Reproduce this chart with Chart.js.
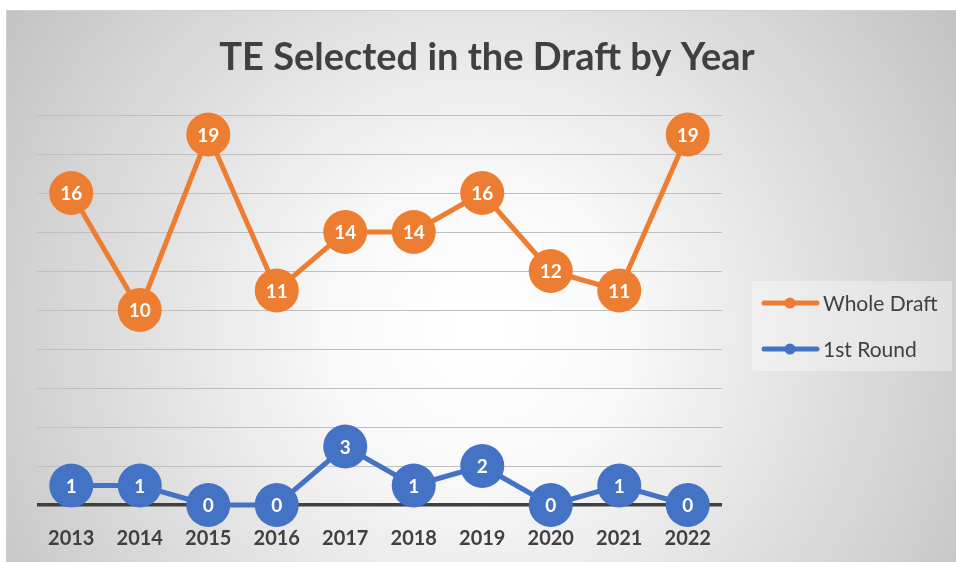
<!DOCTYPE html>
<html>
<head>
<meta charset="utf-8">
<script src="https://cdn.jsdelivr.net/npm/chart.js@4.4.0/dist/chart.umd.min.js"></script>
<style>
  html, body { margin: 0; padding: 0; background: #ffffff; }
  #wrap { width: 956px; height: 562px; position: relative; }
</style>
</head>
<body>
<div id="wrap"><canvas id="draftChart"></canvas></div>
<script>
// Данные графика
const years = ['2013', '2014', '2015', '2016', '2017', '2018', '2019', '2020', '2021', '2022'];
const wholeDraft = [16, 10, 19, 11, 14, 14, 16, 12, 11, 19];
const firstRound = [1, 1, 0, 0, 3, 1, 2, 0, 1, 0];
const seriesNames = ['Whole Draft', '1st Round'];
const seriesColors = ['#ED7D31', '#4472C4'];
const chartTitle = 'TE Selected in the Draft by Year';

const FONT = 'Lato, "Open Sans", sans-serif';

// Фон, заголовок, подписи точек и легенда
const decorPlugin = {
    id: 'decor',
    beforeDraw(chart) {
        const c = chart.ctx;
        c.save();
        c.fillStyle = '#ffffff';
        c.fillRect(0, 0, chart.width, chart.height);
        const g = c.createRadialGradient(480, 330, 20, 480, 330, 560);
        g.addColorStop(0, '#ffffff');
        g.addColorStop(0.25, '#f8f8f8');
        g.addColorStop(1, '#c4c4c4');
        c.fillStyle = g;
        c.fillRect(6, 10, chart.width - 6, chart.height - 10);
        c.strokeStyle = '#d0d0d0';
        c.lineWidth = 1;
        c.beginPath();
        c.moveTo(6.5, chart.height);
        c.lineTo(6.5, 10.5);
        c.lineTo(chart.width, 10.5);
        c.stroke();

        c.fillStyle = '#404040';
        c.font = 'bold 38px ' + FONT;
        c.textAlign = 'center';
        c.textBaseline = 'middle';
        c.fillText(chartTitle, 487, 58);
        c.restore();
    },
    afterDatasetsDraw(chart) {
        const c = chart.ctx;
        c.save();
        c.fillStyle = '#ffffff';
        c.font = 'bold 19px ' + FONT;
        c.textAlign = 'center';
        c.textBaseline = 'middle';
        chart.data.datasets.forEach((ds, i) => {
            const meta = chart.getDatasetMeta(i);
            meta.data.forEach((pt, j) => {
                c.fillText(String(ds.data[j]), pt.x, pt.y + 1);
            });
        });

        // легенда
        c.fillStyle = 'rgba(255,255,255,0.35)';
        c.fillRect(752, 281, 200, 90);
        c.font = '21px ' + FONT;
        c.textAlign = 'left';
        chart.data.datasets.forEach((ds, i) => {
            const y = 303 + i * 46;
            c.strokeStyle = ds.borderColor;
            c.lineWidth = 5;
            c.lineCap = 'round';
            c.beginPath();
            c.moveTo(764, y);
            c.lineTo(817, y);
            c.stroke();
            c.fillStyle = ds.borderColor;
            c.beginPath();
            c.arc(790, y, 5.5, 0, Math.PI * 2);
            c.fill();
            c.fillStyle = '#404040';
            c.fillText(ds.label, 823, y + 1);
        });
        c.restore();
    }
};

const ctx = document.getElementById('draftChart');
new Chart(ctx, {
    type: 'line',
    data: {
        labels: years,
        datasets: [
            {
                label: seriesNames[0],
                data: wholeDraft,
                borderColor: seriesColors[0],
                backgroundColor: seriesColors[0],
                borderWidth: 5,
                pointRadius: 22,
                pointHoverRadius: 22,
                pointBorderWidth: 0,
                tension: 0,
                clip: false
            },
            {
                label: seriesNames[1],
                data: firstRound,
                borderColor: seriesColors[1],
                backgroundColor: seriesColors[1],
                borderWidth: 5,
                pointRadius: 22,
                pointHoverRadius: 22,
                pointBorderWidth: 0,
                tension: 0,
                clip: false
            }
        ]
    },
    options: {
        responsive: true,
        maintainAspectRatio: false,
        animation: false,
        events: [],
        layout: {
            padding: { left: 37, right: 234, top: 115, bottom: 12 }
        },
        plugins: {
            legend: { display: false },
            title: { display: false },
            tooltip: { enabled: false }
        },
        scales: {
            x: {
                offset: true,
                afterFit(scale) { scale.height = 45; },
                grid: { display: false },
                border: { display: false },
                ticks: {
                    color: '#404040',
                    padding: 14,
                    font: { family: FONT, size: 20, weight: 'bold' }
                }
            },
            y: {
                min: 0,
                max: 20,
                afterFit(scale) { scale.width = 0; },
                ticks: { display: false, stepSize: 2 },
                border: { display: false },
                grid: {
                    drawTicks: false,
                    color: (context) => context.tick && context.tick.value === 0 ? '#404040' : '#bfbfbf',
                    lineWidth: (context) => context.tick && context.tick.value === 0 ? 3.5 : 1
                }
            }
        }
    },
    plugins: [decorPlugin]
});
</script>
</body>
</html>
